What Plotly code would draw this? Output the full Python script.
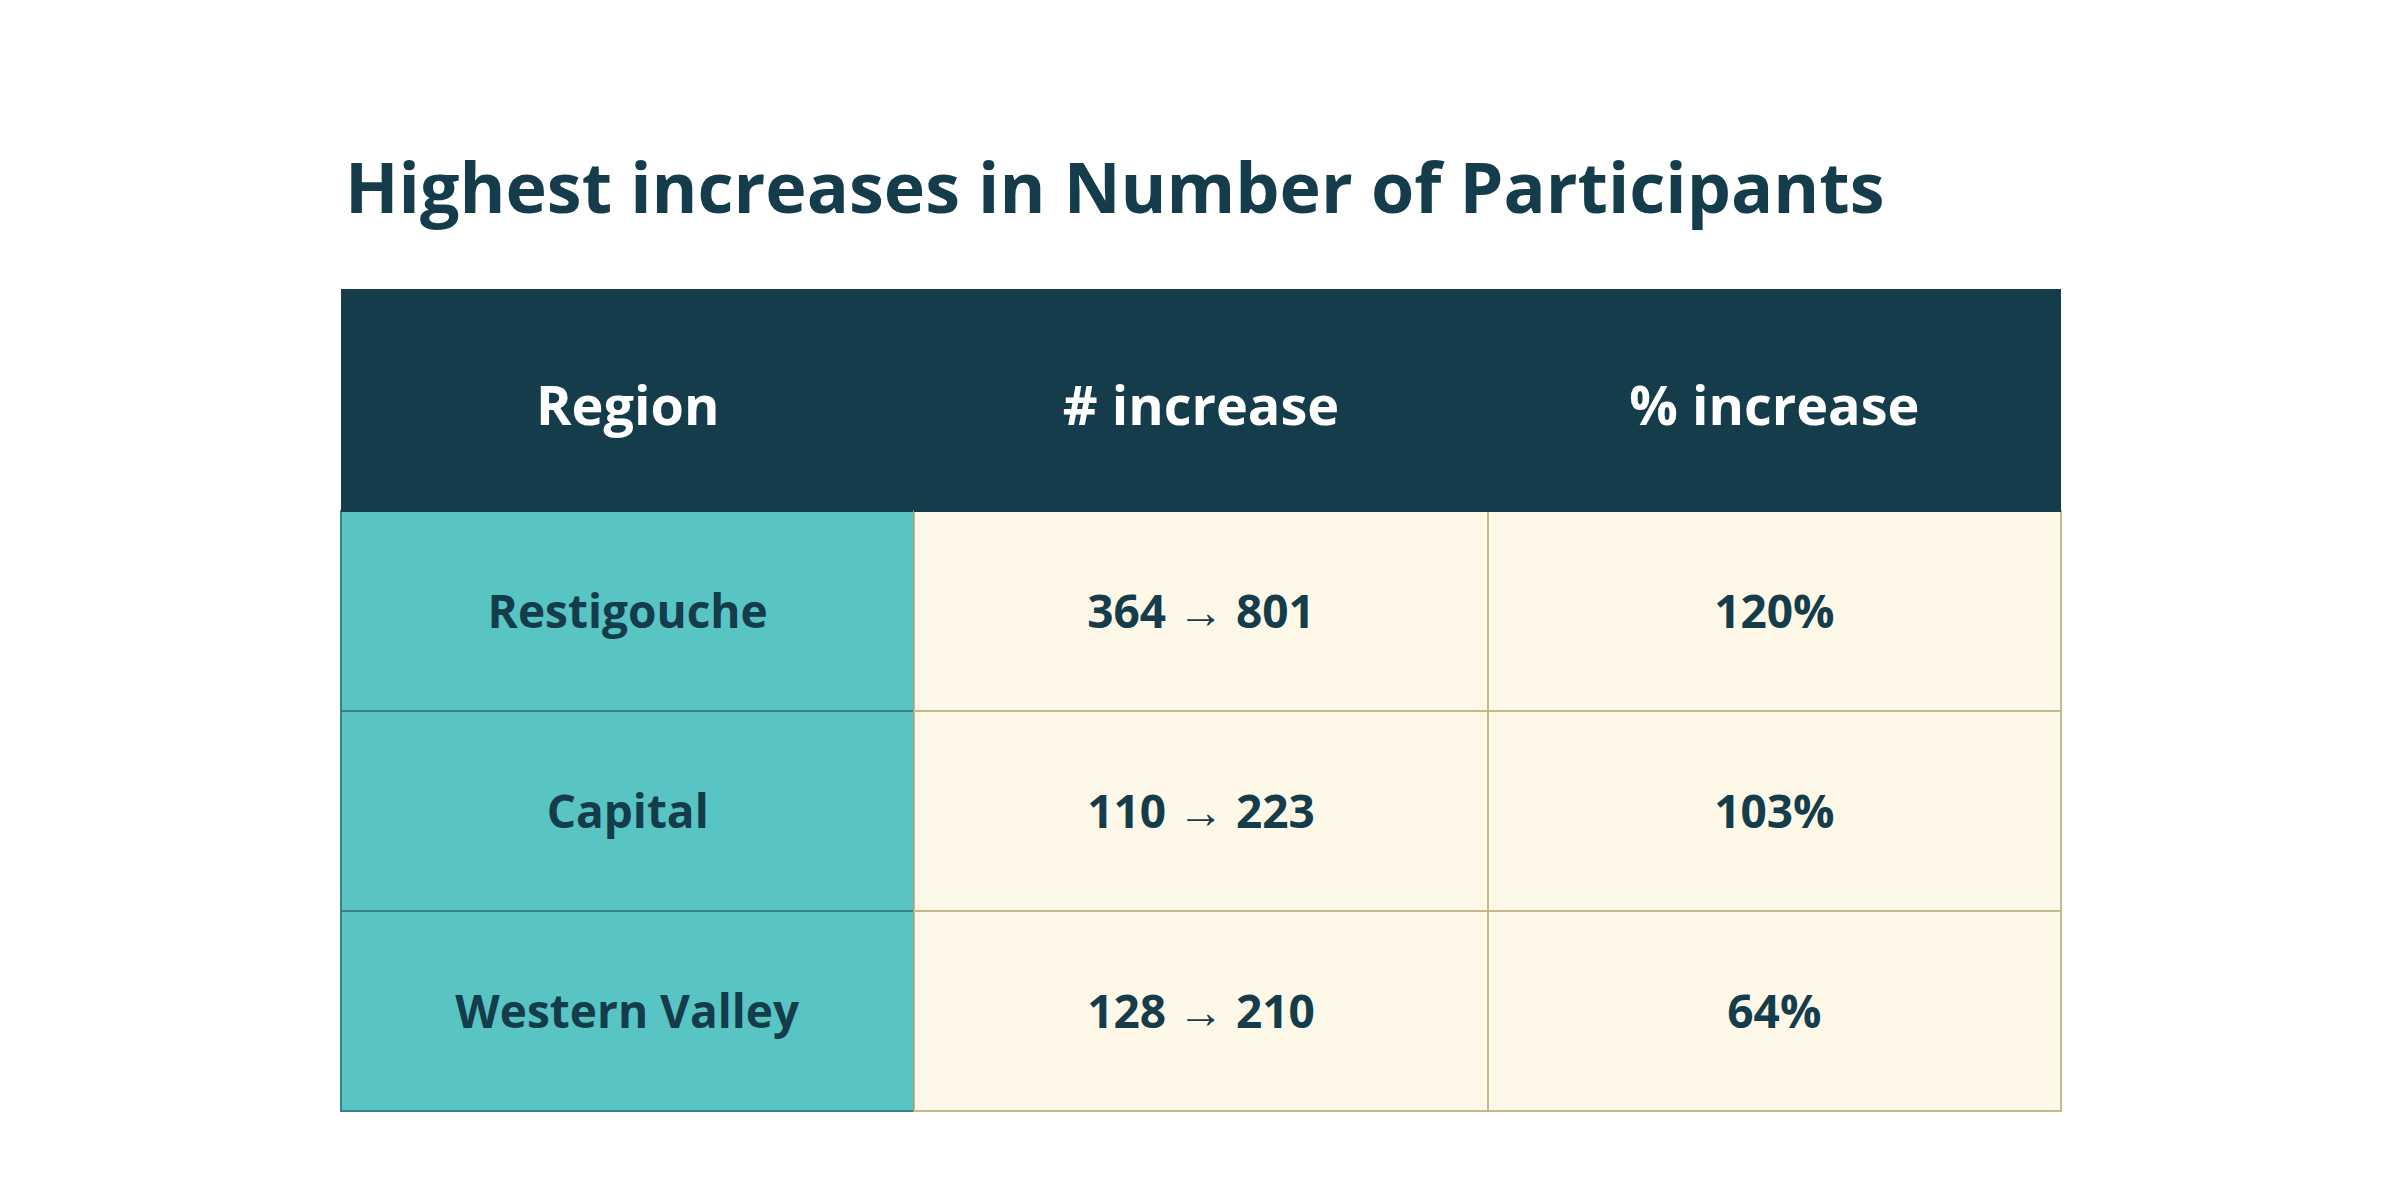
import plotly.graph_objects as go

# table data
regions = ["Restigouche", "Capital", "Western Valley"]
before = [364, 110, 128]
after = [801, 223, 210]
pct_increase = [120, 103, 64]
headers = ["Region", "# increase", "% increase"]

DARK = "#143C4A"
TEAL = "#58C4C4"
CREAM = "#FDF8E8"
TAN = "#C9B78C"

num_text = [f"{a} \u2192 {b}" for a, b in zip(before, after)]
pct_text = [f"{p}%" for p in pct_increase]


def cell(t):
    # a blank first line pushes the label down to the middle of the tall cell
    return f"\u00a0<br><b>{t}</b>"


fig = go.Figure(go.Table(
    domain=dict(x=[333 / 2400, 2053 / 2400], y=[1 - 1106 / 1200, 1 - 281 / 1200]),
    columnwidth=[1, 1, 1],
    header=dict(
        values=[cell(h) for h in headers],
        fill_color=DARK,
        line=dict(color=DARK, width=1),
        align="center",
        height=222,
        font=dict(family="Open Sans", size=54, color="white"),
    ),
    cells=dict(
        values=[[cell(r) for r in regions],
                [cell(t) for t in num_text],
                [cell(t) for t in pct_text]],
        fill_color=[TEAL, CREAM, CREAM],
        line=dict(color=["#3A8089", TAN, TAN], width=2),
        align="center",
        height=200,
        font=dict(family="Open Sans", size=46, color=DARK),
    ),
))

fig.update_layout(
    width=2400,
    height=1200,
    margin=dict(l=0, r=0, t=0, b=0),
    paper_bgcolor="white",
    title=dict(
        text="<b>Highest increases in Number of Participants</b>",
        x=337 / 2400,
        xanchor="left",
        y=1 - 180 / 1200,
        yanchor="middle",
        font=dict(family="Open Sans", size=70, color=DARK),
    ),
)

fig.write_html("out.html")
